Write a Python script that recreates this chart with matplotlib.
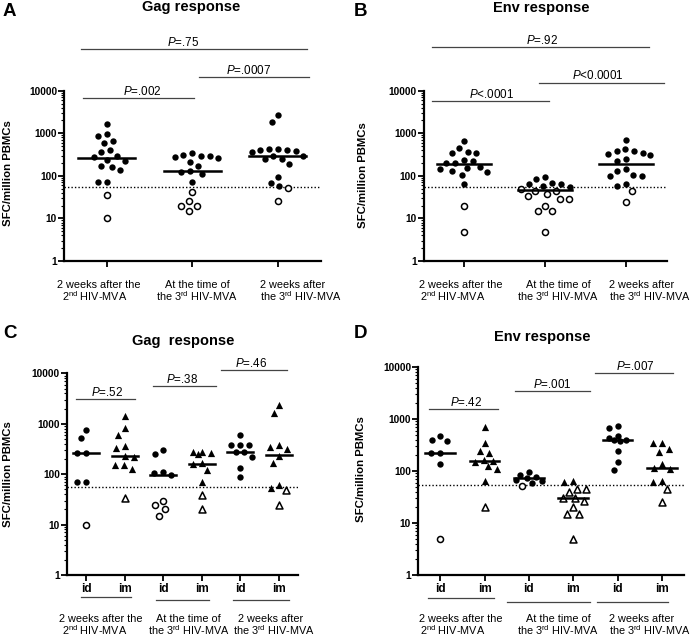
import numpy as np
import matplotlib
matplotlib.use("Agg")
import matplotlib.pyplot as plt
from matplotlib.ticker import LogLocator, NullFormatter

plt.rcParams['font.family'] = 'Liberation Sans'
plt.rcParams['mathtext.fontset'] = 'custom'
plt.rcParams['mathtext.rm'] = 'Liberation Sans'
plt.rcParams['mathtext.it'] = 'Liberation Sans:italic'
plt.rcParams['mathtext.bf'] = 'Liberation Sans:bold'

# ---- data (SFC / million PBMCs) ----
threshold = 55

# panel A: Gag, three time points (filled = positive, open = negative)
A_pos = [[1644, 942, 846, 667, 580, 362, 397, 297, 276, 226, 239, 161, 167, 135, 73, 73],
         [337, 292, 272, 211, 266, 292, 313, 167, 128, 124, 110, 73],
         [2675, 1862, 410, 396, 356, 389, 418, 418, 297, 244, 248, 289, 186, 92, 67, 57]]
A_neg = [[35, 10], [41, 26, 20, 20, 15], [51, 26]]
A_med = [257, 127, 296]

# panel B: Env
B_pos = [[667, 442, 349, 337, 369, 223, 203, 203, 235, 164, 144, 123, 104, 130, 150, 63],
         [69, 83, 92, 64, 54, 64, 58],
         [681, 419, 382, 325, 382, 308, 337, 248, 219, 144, 132, 104, 97, 100, 58, 63]]
B_neg = [[19.5, 4.9], [44, 48, 38, 44, 33.6, 29, 29, 19.5, 14.7, 14.7, 4.9], [44.7, 24.7]]
B_med = [186, 45.6, 190]

# panel C: Gag by route (id, im) at each time point
C_pos = [[753, 530, 258, 265, 69, 69],
         [1449, 814, 608, 363, 326, 222, 226, 150, 125, 150],
         [302, 255, 112, 95, 104],
         [280, 259, 246, 270, 170, 157, 121, 69],
         [600, 385, 374, 385, 272, 272, 222, 133, 88],
         [2360, 1660, 351, 316, 374, 230, 169, 53, 62]]
C_neg = [[10], [34], [29.8, 20, 24.8, 15], [38.7, 20], [], [48.6, 24]]
C_med = [260, 226, 95, 159, 275, 237]

# panel D: Env by route
D_pos = [[471, 395, 373, 219, 219, 134],
         [692, 351, 246, 225, 163, 151, 154, 109, 125, 64],
         [95, 82, 76, 72, 68, 64, 60],
         [65, 61],
         [733, 680, 471, 437, 400, 390, 380, 246, 151, 104],
         [341, 341, 261, 235, 134, 112, 110, 60.6, 64]]
D_neg = [[5], [20], [52], [45.7, 39.5, 45.7, 29.9, 29.9, 27, 20, 14.7, 14.7, 5], [], [46, 25.7]]
D_med = [219, 158, 72, 30.5, 400, 112]

# comparison brackets: (x start, x end, y, label, label x)
A_br = [(-0.30, 2.34, 94800, "=.75", 0.89),
        (1.08, 2.36, 20900, "=.0007", 1.66),
        (-0.28, 1.02, 6760, "=.002", 0.42)]
B_br = [(-0.39, 2.28, 104700, "=.92", 0.96),
        (0.93, 2.47, 15500, "<0.0001", 1.65),
        (-0.39, 1.05, 5750, "<.0001", 0.34)]
C_br = [(-0.26, 1.27, 3090, "=.52", 0.54),
        (1.74, 3.38, 5500, "=.38", 2.48),
        (3.49, 5.20, 11750, "=.46", 4.29)]
D_br = [(-0.26, 1.30, 1550, "=.42", 0.58),
        (1.68, 3.37, 3470, "=.001", 2.52),
        (3.50, 5.25, 7590, "=.007", 4.40)]

routes = ["id", "im", "id", "im", "id", "im"]
yticks = [1, 10, 100, 1000, 10000]

W, H = 700, 638
fig = plt.figure(figsize=(7, 6.38), dpi=100)


def fx(x):
    return x / W


def fy(y):
    return 1 - y / H


def add_ax(l, r, t, b):
    return fig.add_axes([fx(l), fy(b), (r - l) / W, (b - t) / H])


def swarm_x(ax, cx, vals, diam=9.0, half=0.3):
    # beeswarm in pixel space around category centre cx, capped in width
    vals = np.asarray(vals, float)
    if len(vals) == 0:
        return np.array([])
    pts = ax.transData.transform(np.column_stack([np.full(len(vals), cx), vals]))
    x0 = pts[0, 0]
    maxw = ax.transData.transform([[cx + half, 1]])[0, 0] - x0
    ys = pts[:, 1]
    xs = np.zeros(len(vals))
    placed = []
    for i in np.argsort(-ys):
        cands = [0.0]
        for (xj, yj) in placed:
            dy = ys[i] - yj
            if abs(dy) < diam:
                dx = np.sqrt(diam ** 2 - dy ** 2)
                cands += [xj - dx, xj + dx]
        cands = sorted([c for c in cands if abs(c) <= maxw + 0.5], key=abs)
        best = None
        for c in cands:
            if all((c - xj) ** 2 + (ys[i] - yj) ** 2 >= diam ** 2 - 1e-6 for xj, yj in placed):
                best = c
                break
        if best is None:
            grid = np.linspace(-maxw, maxw, 61)
            score = [min((g - xj) ** 2 + (ys[i] - yj) ** 2 for xj, yj in placed) for g in grid]
            best = grid[int(np.argmax(score))]
        xs[i] = best
        placed.append((xs[i], ys[i]))
    back = ax.transData.inverted().transform(np.column_stack([x0 + xs, ys]))
    return back[:, 0]


def setup(ax, n):
    ax.set_yscale('log')
    ax.set_ylim(1, 10000)
    ax.set_xlim(-0.5, n - 0.5)
    for s in ['top', 'right']:
        ax.spines[s].set_visible(False)
    for s in ['left', 'bottom']:
        ax.spines[s].set_linewidth(1.6)
    ax.set_yticks(yticks)
    ax.set_yticklabels([str(t) for t in yticks], fontweight='bold', fontsize=7.3)
    ax.yaxis.set_minor_locator(LogLocator(base=10, subs=np.arange(2, 10)))
    ax.yaxis.set_minor_formatter(NullFormatter())
    ax.tick_params(axis='y', which='major', length=4, width=1.3, pad=1.0)
    ax.tick_params(axis='y', which='minor', length=2.5, width=0.8)
    ax.set_xticks(range(n))
    ax.set_xticklabels([])
    ax.tick_params(axis='x', length=4, width=1.3)
    ax.axhline(threshold, color='black', lw=1.0, ls=(0, (1, 1.5)), zorder=1)


def draw(ax, pos, neg, med, marks):
    for i in range(len(pos)):
        allv = list(pos[i]) + list(neg[i])
        xs = swarm_x(ax, i, allv)
        k = len(pos[i])
        m = marks[i]
        ax.scatter(xs[:k], pos[i], s=21 if m == 'o' else 27, marker=m,
                   color='black', lw=0, zorder=3, clip_on=False)
        if len(neg[i]):
            ax.scatter(xs[k:], neg[i], s=19 if m == 'o' else 25, marker=m,
                       facecolor='white', edgecolor='black', lw=1.1, zorder=3, clip_on=False)
        ax.plot([i - 0.335, i + 0.335], [med[i], med[i]], color='black', lw=1.8, zorder=4)


def brackets(ax, br):
    for x0, x1, y, lab, tx in br:
        ax.plot([x0, x1], [y, y], color='#444444', lw=0.9, clip_on=False)
        ax.annotate(r"$\mathit{P}$" + lab, (tx, y), xytext=(0, 2.3), textcoords='offset points',
                    ha='center', va='baseline', fontsize=8.4, annotation_clip=False)


def txt(x, y, s, ha='left', **kw):
    fig.text(fx(x), fy(y), s, ha=ha, va='baseline', **kw)


# ---- panel A ----
axA = add_ax(64, 320.5, 90.7, 261)
setup(axA, 3)
draw(axA, A_pos, A_neg, A_med, ['o', 'o', 'o'])
brackets(axA, A_br)

# ---- panel B ----
axB = add_ax(423.5, 666.5, 90.7, 261)
setup(axB, 3)
draw(axB, B_pos, B_neg, B_med, ['o', 'o', 'o'])
brackets(axB, B_br)

# ---- panel C ----
axC = add_ax(66.7, 298.3, 373.4, 575)
setup(axC, 6)
draw(axC, C_pos, C_neg, C_med, ['o', '^'] * 3)
brackets(axC, C_br)

# ---- panel D ----
axD = add_ax(418, 684, 367, 575)
setup(axD, 6)
draw(axD, D_pos, D_neg, D_med, ['o', '^'] * 3)
brackets(axD, D_br)

# titles and panel letters
big = dict(fontweight='bold', fontsize=13.5)
tit = dict(fontweight='bold', fontsize=10.5)
txt(3, 16, "A", **big)
txt(191, 11.5, "Gag response", ha='center', **tit)
txt(354, 16, "B", **big)
txt(541, 12, "Env response", ha='center', **tit)
txt(3, 338.5, "C", **big)
txt(183, 345, "Gag  response", ha='center', **tit)
txt(354, 338.5, "D", **big)
txt(542, 340.5, "Env response", ha='center', **tit)

# y labels
for x, y in [(8, 173), (363, 175), (8, 474), (361, 469)]:
    fig.text(fx(x), fy(y), "SFC/million PBMCs", rotation=90, ha='center', va='center',
             fontweight='bold', fontsize=8.2)

# time point labels
l1 = "2 weeks after the"
l2 = r"2$^{\mathrm{nd}}$ HIV-MVA"
m1 = "At the time of"
m2 = r"the 3$^{\mathrm{rd}}$ HIV-MVA"
r1 = "2 weeks after"
r2 = r"the 3$^{\mathrm{rd}}$ HIV-MVA"
fs = 7.8
for (y1, y2, xa, xb, xc, xd, xe) in [(288, 301, 57, 61.7, 197, 260, 260),
                                     (288, 301, 419.3, 420, 558, 609.3, 609.3),
                                     (622.5, 635, 59, 62, 188.5, 237.7, 233),
                                     (622.5, 635, 419.3, 420, 558, 609.3, 609.3)]:
    txt(xa, y1, l1, fontsize=fs)
    txt(xb, y2, l2, fontsize=fs)
    txt(xc, y1, m1, ha='center', fontsize=fs)
    txt(xc, y2, m2, ha='center', fontsize=fs)
    txt(xd, y1, r1, fontsize=fs)
    txt(xe, y2, r2, fontsize=fs)

# route labels and underlines for C and D
for ax in (axC, axD):
    for i, r in enumerate(routes):
        ax.annotate(r, (i, 0), xycoords=('data', 'axes fraction'), xytext=(0, -12),
                    textcoords='offset points', ha='center', va='baseline',
                    fontweight='bold', fontsize=8.5, annotation_clip=False)
for (x0, x1, y) in [(80.7, 130.7, 596.7), (155.7, 209, 600.3), (232.7, 289.3, 600.3),
                    (428.3, 494, 598.3), (506.7, 590, 601.7), (596.7, 668.3, 601.7)]:
    fig.add_artist(plt.Line2D([fx(x0), fx(x1)], [fy(y), fy(y)], color='#444444', lw=0.9))

fig.savefig("out.png", dpi=100)
